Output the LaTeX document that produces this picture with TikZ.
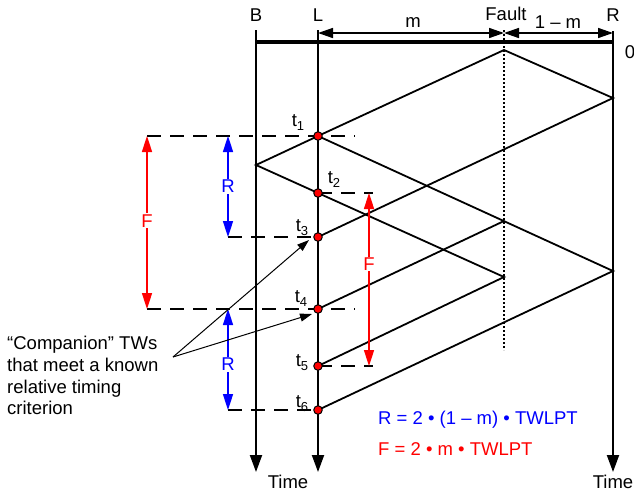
\documentclass[tikz,border=0pt]{standalone}
\usepackage{fontspec}
\setmainfont{Liberation Sans}
\usetikzlibrary{arrows.meta}
\newcommand\tsub[1]{t\raisebox{-4pt}{\fontsize{13}{13}\selectfont #1}}
\begin{document}
\begin{tikzpicture}[x=1pt,y=-1pt,
  font=\fontsize{18.5}{21.7}\selectfont,
  wave/.style={line width=1.8pt},
  axisline/.style={line width=2pt,-{Triangle[length=17pt,width=12pt]}},
  dimarrow/.style={line width=1.5pt,{Triangle[length=15pt,width=10pt]}-{Triangle[length=15pt,width=10pt]}},
  hdash/.style={line width=1.6pt,dash pattern=on 14pt off 9pt},
  faultline/.style={line width=1.5pt,dash pattern=on 2pt off 2pt},
  measure/.style={line width=1.6pt,{Triangle[length=16pt,width=10pt]}-{Triangle[length=16pt,width=10pt]}},
  mlabel/.style={fill=white,inner sep=1pt},
  tdot/.style={circle,fill=red,draw=black,line width=1pt,inner sep=0pt,minimum size=8.5pt},
  lbl/.style={inner sep=0pt},
  callout/.style={line width=1pt,-{Triangle[length=12pt,width=8pt]}}]
\useasboundingbox (0,0) rectangle (634,493);

% key coordinates
\coordinate (Btop) at (256,30);  \coordinate (Bbot) at (256,472);
\coordinate (Ltop) at (318,30);  \coordinate (Lbot) at (318,472);
\coordinate (Rtop) at (613,31);  \coordinate (Rbot) at (613,472);
\coordinate (Bbus) at (256,42);  \coordinate (Rbus) at (613,42);
\coordinate (Ftop) at (504,30);  \coordinate (Fbot) at (504,350);
\coordinate (Ldim) at (318,33);  \coordinate (Fdim) at (504,33);  \coordinate (Rdim) at (613,33);

\coordinate (F0) at (504,50);
\coordinate (R1) at (613,98);
\coordinate (t1) at (318,136);
\coordinate (B1) at (256,165);
\coordinate (t2) at (318,193);
\coordinate (t3) at (318,237);
\coordinate (R2) at (613,271);
\coordinate (Fb) at (504,277);
\coordinate (Fa) at (504,221);
\coordinate (t4) at (318,309);
\coordinate (t5) at (318,366);
\coordinate (t6) at (318,410);

% horizontal dashed reference lines
\coordinate (d1a) at (147,136); \coordinate (d1b) at (355,136);
\coordinate (d2b) at (373,193);
\coordinate (d3a) at (228,237);
\coordinate (d4a) at (147,309); \coordinate (d4b) at (355,309);
\coordinate (d5b) at (373,366);
\coordinate (d6a) at (228,410);
\draw[hdash] (d1a) -- (d1b);
\draw[hdash] (t2) -- (d2b);
\draw[hdash] (d3a) -- (t3);
\draw[hdash] (d4a) -- (d4b);
\draw[hdash] (t5) -- (d5b);
\draw[hdash] (d6a) -- (t6);

% bus and vertical axes
\draw[line width=4pt] (Bbus) -- (Rbus);
\draw[axisline] (Btop) -- (Bbot);
\draw[axisline] (Ltop) -- (Lbot);
\draw[axisline] (Rtop) -- (Rbot);
\draw[faultline] (Ftop) -- (Fbot);

% dimension arrows
\draw[dimarrow] (Ldim) -- (Fdim);
\draw[dimarrow] (Fdim) -- (Rdim);

% travelling waves
\draw[wave] (t1) -- (F0) -- (R1) -- (t3);
\draw[wave] (t1) -- (B1) -- (t2) -- (Fb) -- (t5);
\draw[wave] (t1) -- (R2) -- (t6);
\draw[wave] (Fa) -- (t4);

% measurement arrows
\coordinate (FLa) at (147,136); \coordinate (FLb) at (147,309);
\coordinate (FMa) at (369,193); \coordinate (FMb) at (369,366);
\coordinate (RUa) at (228,136); \coordinate (RUb) at (228,237);
\coordinate (RLa) at (228,309); \coordinate (RLb) at (228,410);
\draw[measure,red] (FLa) -- node[mlabel,text=red,pos=0.49] (labF1) {F} (FLb);
\draw[measure,red] (FMa) -- node[mlabel,text=red,pos=0.41] (labF2) {F} (FMb);
\draw[measure,blue] (RUa) -- node[mlabel,text=blue] (labR1) {R} (RUb);
\draw[measure,blue] (RLa) -- node[mlabel,text=blue,pos=0.55] (labR2) {R} (RLb);

% dots
\foreach \p in {t1,t2,t3,t4,t5,t6} \node[tdot] (dot\p) at (\p) {};

% t labels
\node[lbl] (lt1) at (298,123) {\tsub{1}};
\node[lbl] (lt2) at (334,180) {\tsub{2}};
\node[lbl] (lt3) at (302,228) {\tsub{3}};
\node[lbl] (lt4) at (301,299) {\tsub{4}};
\node[lbl] (lt5) at (302,363) {\tsub{5}};
\node[lbl] (lt6) at (302,404) {\tsub{6}};

% top labels
\node[lbl] (labB) at (256,15) {B};
\node[lbl] (labL) at (318,15) {L};
\node[lbl] (labFault) at (506,14) {Fault};
\node[lbl] (labR) at (613,15) {R};
\node[lbl] (labm) at (413,23) {m};
\node[lbl] (lab1m) at (558,22) {1 – m};
\node[lbl] (lab0) at (630,52) {0};

% bottom labels
\node[lbl] (time1) at (288,482) {Time};
\node[lbl] (time2) at (613,482) {Time};

% companion callout
\node[lbl,anchor=north west,align=left] (comp) at (7,336) {“Companion” TWs\\that meet a known\\relative timing\\criterion};
\coordinate (apex) at (173,357);
\coordinate (tip3) at (309,240);
\coordinate (tip4) at (312,314);
\draw[callout] (apex) -- (tip3);
\draw[callout] (apex) -- (tip4);

% legend
\node[lbl,anchor=west,text=blue] (legR) at (378,420) {R = 2 • (1 – m) • TWLPT};
\node[lbl,anchor=west,text=red] (legF) at (378,449) {F = 2 • m • TWLPT};
\end{tikzpicture}
\end{document}
